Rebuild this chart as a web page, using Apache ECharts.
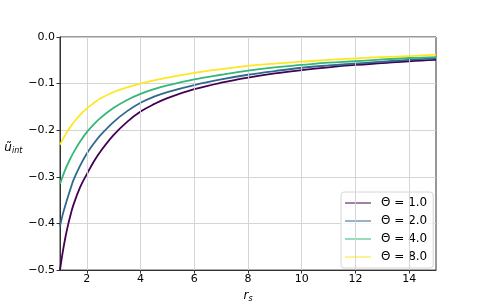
<!DOCTYPE html>
<html>
<head>
<meta charset="utf-8">
<script src="https://cdn.jsdelivr.net/npm/echarts@6/dist/echarts.min.js"></script>
<style>html,body{margin:0;padding:0;background:#fff}#c{width:485px;height:308px}</style>
</head>
<body>
<div id="c"></div>
<script>
const rs = [1, 1.1, 1.2, 1.3, 1.4, 1.5, 1.75, 2, 2.25, 2.5, 3, 3.5, 4, 4.5, 5, 6, 7, 8, 9, 10, 11, 12, 13, 14, 15];
const theta1 = [-0.500, -0.462, -0.430, -0.403, -0.380, -0.360, -0.322, -0.294, -0.268, -0.246, -0.210, -0.182, -0.160, -0.144, -0.131, -0.112, -0.098, -0.087, -0.078, -0.071, -0.065, -0.060, -0.056, -0.052, -0.049];
const theta2 = [-0.406, -0.381, -0.361, -0.342, -0.324, -0.307, -0.276, -0.250, -0.229, -0.211, -0.182, -0.159, -0.141, -0.128, -0.118, -0.103, -0.091, -0.081, -0.073, -0.066, -0.061, -0.057, -0.053, -0.049, -0.046];
const theta4 = [-0.315, -0.299, -0.284, -0.271, -0.259, -0.248, -0.224, -0.204, -0.188, -0.174, -0.152, -0.135, -0.122, -0.112, -0.104, -0.091, -0.081, -0.072, -0.065, -0.060, -0.055, -0.052, -0.048, -0.045, -0.043];
const theta8 = [-0.231, -0.220, -0.210, -0.200, -0.192, -0.184, -0.167, -0.153, -0.142, -0.132, -0.118, -0.108, -0.100, -0.093, -0.087, -0.077, -0.069, -0.062, -0.057, -0.053, -0.049, -0.046, -0.043, -0.041, -0.038];
const seriesNames = ['Θ = 1.0', 'Θ = 2.0', 'Θ = 4.0', 'Θ = 8.0'];
const seriesData = [theta1, theta2, theta4, theta8];
const colors = ['#440154', '#31688e', '#35b779', '#fde725'];
const xTicks = [2, 4, 6, 8, 10, 12, 14];

const font = 'DejaVu Sans';
const chart = echarts.init(document.getElementById('c'), null, {renderer: 'canvas'});
const series = seriesNames.map((n, i) => ({
  name: n,
  type: 'line',
  data: rs.map((x, j) => [x, seriesData[i][j]]),
  smooth: 0.4,
  showSymbol: false,
  lineStyle: {color: colors[i], width: 1.8},
  itemStyle: {color: colors[i]},
  z: 3 + i,
  animation: false
}));
series.push({
  type: 'line', data: [], silent: true, z: 1,
  markLine: {
    silent: true, symbol: 'none', animation: false,
    label: {show: false},
    lineStyle: {color: '#d0d0d0', width: 0.9, type: 'solid'},
    data: xTicks.map(v => ({xAxis: v}))
  }
});
chart.setOption({
  animation: false,
  backgroundColor: '#fff',
  color: colors,
  grid: {left: 60, right: 49, top: 37, bottom: 33, show: true, borderColor: '#333', borderWidth: 1, backgroundColor: 'transparent'},
  legend: {
    data: seriesNames,
    orient: 'vertical',
    left: 341, top: 192,
    padding: [4, 6, 4, 4],
    itemWidth: 26, itemHeight: 2, itemGap: 4,
    icon: 'rect',
    itemStyle: {opacity: 0.5},
    backgroundColor: 'rgba(255,255,255,0.8)',
    borderColor: '#d6d6d6', borderWidth: 1, borderRadius: 3,
    textStyle: {fontFamily: font, fontSize: 12, color: '#000', lineHeight: 14, padding: [0, 0, 0, 5]}
  },
  xAxis: {
    type: 'value', min: 1, max: 15,
    name: '{a|r}{b|s}', nameLocation: 'middle', nameGap: 18,
    nameTextStyle: {rich: {a: {fontFamily: font, fontStyle: 'italic', fontSize: 12, color: '#000'}, b: {fontFamily: font, fontStyle: 'italic', fontSize: 8, color: '#000', verticalAlign: 'bottom', padding: [6, 0, 0, 0]}}},
    axisLine: {show: true, onZero: false, lineStyle: {color: '#333', width: 1}},
    axisTick: {show: true, inside: false, length: 3.5, customValues: xTicks, lineStyle: {color: '#333'}},
    axisLabel: {customValues: xTicks, margin: 4, fontFamily: font, fontSize: 11, color: '#000'},
    splitLine: {show: false}
  },
  yAxis: {
    type: 'value', min: -0.5, max: 0, interval: 0.1,
    name: '{a|ũ}{b|int}', nameLocation: 'middle', nameGap: 13, nameRotate: 0,
    nameTextStyle: {padding: [0, 0, 12, 0], rich: {a: {fontFamily: font, fontStyle: 'italic', fontSize: 12, color: '#000'}, b: {fontFamily: font, fontStyle: 'italic', fontSize: 8, color: '#000', padding: [6, 0, 0, 0]}}},
    axisLine: {show: true, lineStyle: {color: '#333', width: 1}},
    axisTick: {show: true, inside: false, length: 3.5, lineStyle: {color: '#333'}},
    axisLabel: {margin: 5, fontFamily: font, fontSize: 11, color: '#000',
      formatter: v => (v < 0 ? '−' : '') + Math.abs(v).toFixed(1)},
    splitLine: {show: true, lineStyle: {color: '#d0d0d0', width: 0.9}}
  },
  series: series
});
</script>
</body>
</html>
